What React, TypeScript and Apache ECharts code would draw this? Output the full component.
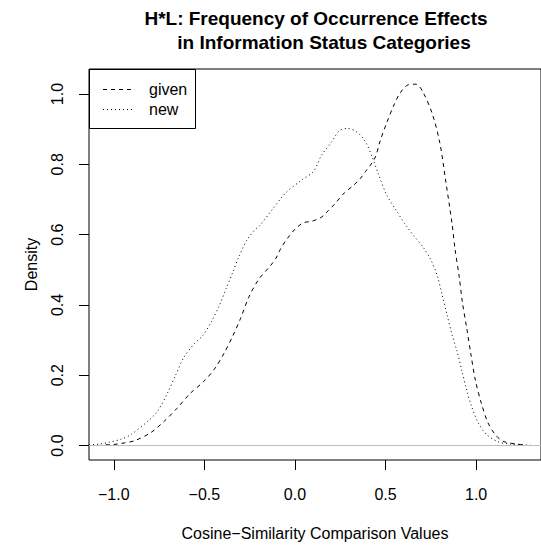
import React, { useEffect, useRef } from "react";
import * as echarts from "echarts";

const titleLines = ["H*L: Frequency of Occurrence Effects", "in Information Status Categories"];
const xAxisTitle = "Cosine\u2212Similarity Comparison Values";
const yAxisTitle = "Density";
const seriesNames = ["given", "new"];
const xTicks = [-1, -0.5, 0, 0.5, 1];
const yTicks = [0, 0.2, 0.4, 0.6, 0.8, 1.0];

const givenX = [
  -1.045, -1.0, -0.957, -0.884, -0.795, -0.722, -0.651, -0.579, -0.506, -0.444,
  -0.39, -0.344, -0.3, -0.255, -0.2, -0.138, -0.105, -0.078, -0.042, 0.003,
  0.048, 0.093, 0.147, 0.183, 0.219, 0.273, 0.318, 0.363, 0.39, 0.417,
  0.444, 0.471, 0.507, 0.543, 0.579, 0.624, 0.668, 0.705, 0.759, 0.8,
  0.83, 0.867, 0.884, 0.906, 0.924, 0.948, 0.971, 0.996, 1.029, 1.065,
  1.11, 1.154, 1.227, 1.265,
];
const givenY = [
  0.002, 0.003, 0.006, 0.014, 0.037, 0.069, 0.106, 0.148, 0.181, 0.218,
  0.264, 0.311, 0.362, 0.422, 0.473, 0.51, 0.533, 0.561, 0.589, 0.617,
  0.634, 0.638, 0.65, 0.668, 0.687, 0.719, 0.738, 0.761, 0.78, 0.798,
  0.821, 0.868, 0.919, 0.965, 1.002, 1.026, 1.028, 1.007, 0.942, 0.86,
  0.76, 0.631, 0.557, 0.482, 0.408, 0.334, 0.26, 0.185, 0.12, 0.065,
  0.028, 0.011, 0.004, 0.002,
];

const newX = [
  -1.137, -1.08, -1.029, -0.96, -0.903, -0.813, -0.759, -0.705, -0.66, -0.614,
  -0.56, -0.506, -0.462, -0.417, -0.381, -0.344, -0.309, -0.265, -0.219, -0.195,
  -0.123, -0.051, 0.039, 0.102, 0.147, 0.201, 0.246, 0.29, 0.344, 0.39,
  0.426, 0.462, 0.507, 0.56, 0.606, 0.66, 0.705, 0.749, 0.786, 0.813,
  0.84, 0.867, 0.894, 0.921, 0.948, 0.975, 1.011, 1.056, 1.119, 1.19, 1.3,
];
const newY = [
  0.002, 0.004, 0.009, 0.018, 0.032, 0.069, 0.097, 0.148, 0.199, 0.25,
  0.287, 0.315, 0.352, 0.399, 0.445, 0.492, 0.538, 0.585, 0.615, 0.625,
  0.673, 0.719, 0.756, 0.78, 0.826, 0.863, 0.896, 0.902, 0.891, 0.863,
  0.821, 0.77, 0.712, 0.668, 0.631, 0.594, 0.566, 0.529, 0.482, 0.427,
  0.371, 0.315, 0.269, 0.213, 0.157, 0.111, 0.065, 0.032, 0.011, 0.004, 0.001,
];

const X_MIN = -1.137;
const X_MAX = 1.358;
const Y_MIN = -0.0412;
const Y_MAX = 1.0712;

const FONT = "'Liberation Sans', Arial, Helvetica, sans-serif";

const fmt = (v: number) => v.toFixed(1).replace("-", "\u2212");

export default function App() {
  const ref = useRef<HTMLDivElement>(null);
  useEffect(() => {
    if (!ref.current) return;
    const chart = echarts.init(ref.current, null, { renderer: "svg" });
    const givenData = givenX.map((x, i) => [x, givenY[i]]);
    const newData = newX.map((x, i) => [x, newY[i]]);
    chart.setOption({
      animation: false,
      backgroundColor: "#ffffff",
      textStyle: { fontFamily: FONT },
      grid: {
        left: 89,
        top: 69,
        right: -10,
        bottom: 79,
        show: true,
        borderColor: "#000000",
        borderWidth: 1,
        backgroundColor: "transparent",
      },
      xAxis: {
        type: "value",
        min: X_MIN,
        max: X_MAX,
        position: "bottom",
        name: xAxisTitle,
        nameLocation: "middle",
        nameGap: 65,
        nameTextStyle: { fontSize: 16, color: "#000", fontFamily: FONT },
        axisLine: { show: false, onZero: false },
        splitLine: { show: false },
        axisTick: {
          show: true,
          length: 10,
          customValues: xTicks,
          lineStyle: { color: "#000", width: 1 },
        },
        axisLabel: {
          show: true,
          customValues: xTicks,
          margin: 26,
          fontSize: 16,
          color: "#000",
          fontFamily: FONT,
          formatter: (v: number) => fmt(v),
        },
      },
      yAxis: {
        type: "value",
        min: Y_MIN,
        max: Y_MAX,
        position: "left",
        name: yAxisTitle,
        nameLocation: "middle",
        nameGap: 50,
        nameRotate: 90,
        nameTextStyle: { fontSize: 16, color: "#000", fontFamily: FONT },
        axisLine: { show: false, onZero: false },
        splitLine: { show: false },
        axisTick: {
          show: true,
          length: 10,
          customValues: yTicks,
          lineStyle: { color: "#000", width: 1 },
        },
        axisLabel: {
          show: true,
          customValues: yTicks,
          rotate: 90,
          margin: 24,
          fontSize: 16,
          color: "#000",
          fontFamily: FONT,
          formatter: (v: number) => fmt(v),
        },
      },
      series: [
        {
          name: seriesNames[0],
          type: "line",
          data: givenData,
          showSymbol: false,
          smooth: 0.3,
          clip: true,
          lineStyle: { color: "#000", width: 1, type: [4, 4] },
          markLine: {
            silent: true,
            symbol: "none",
            label: { show: false },
            lineStyle: { color: "#bebebe", type: "solid", width: 1 },
            data: [{ yAxis: 0 }],
          },
        },
        {
          name: seriesNames[1],
          type: "line",
          data: newData,
          showSymbol: false,
          smooth: 0.3,
          clip: true,
          lineStyle: { color: "#000", width: 1, type: [1, 3] },
        },
      ],
      graphic: [
        {
          type: "text",
          x: 316,
          y: 18,
          style: {
            text: titleLines[0],
            font: `bold 19px ${FONT}`,
            fill: "#000",
            align: "center",
            verticalAlign: "middle",
          },
        },
        {
          type: "text",
          x: 324,
          y: 42,
          style: {
            text: titleLines[1],
            font: `bold 19px ${FONT}`,
            fill: "#000",
            align: "center",
            verticalAlign: "middle",
          },
        },
        {
          type: "rect",
          shape: { x: 89.5, y: 69.5, width: 106, height: 59 },
          style: { fill: "#ffffff", stroke: "#000", lineWidth: 1 },
          z: 10,
        },
        {
          type: "line",
          shape: { x1: 103, y1: 89.5, x2: 135, y2: 89.5 },
          style: { stroke: "#000", lineWidth: 1, lineDash: [4, 4] },
          z: 11,
        },
        {
          type: "line",
          shape: { x1: 103, y1: 109.5, x2: 135, y2: 109.5 },
          style: { stroke: "#000", lineWidth: 1, lineDash: [1, 3] },
          z: 11,
        },
        {
          type: "text",
          x: 149,
          y: 89.5,
          style: {
            text: seriesNames[0],
            font: `16px ${FONT}`,
            fill: "#000",
            align: "left",
            verticalAlign: "middle",
          },
          z: 11,
        },
        {
          type: "text",
          x: 149,
          y: 109.5,
          style: {
            text: seriesNames[1],
            font: `16px ${FONT}`,
            fill: "#000",
            align: "left",
            verticalAlign: "middle",
          },
          z: 11,
        },
      ],
    });
    return () => chart.dispose();
  }, []);
  return (
    <div
      ref={ref}
      style={{ position: "absolute", left: 0, top: 0, width: 541, height: 546 }}
    />
  );
}
